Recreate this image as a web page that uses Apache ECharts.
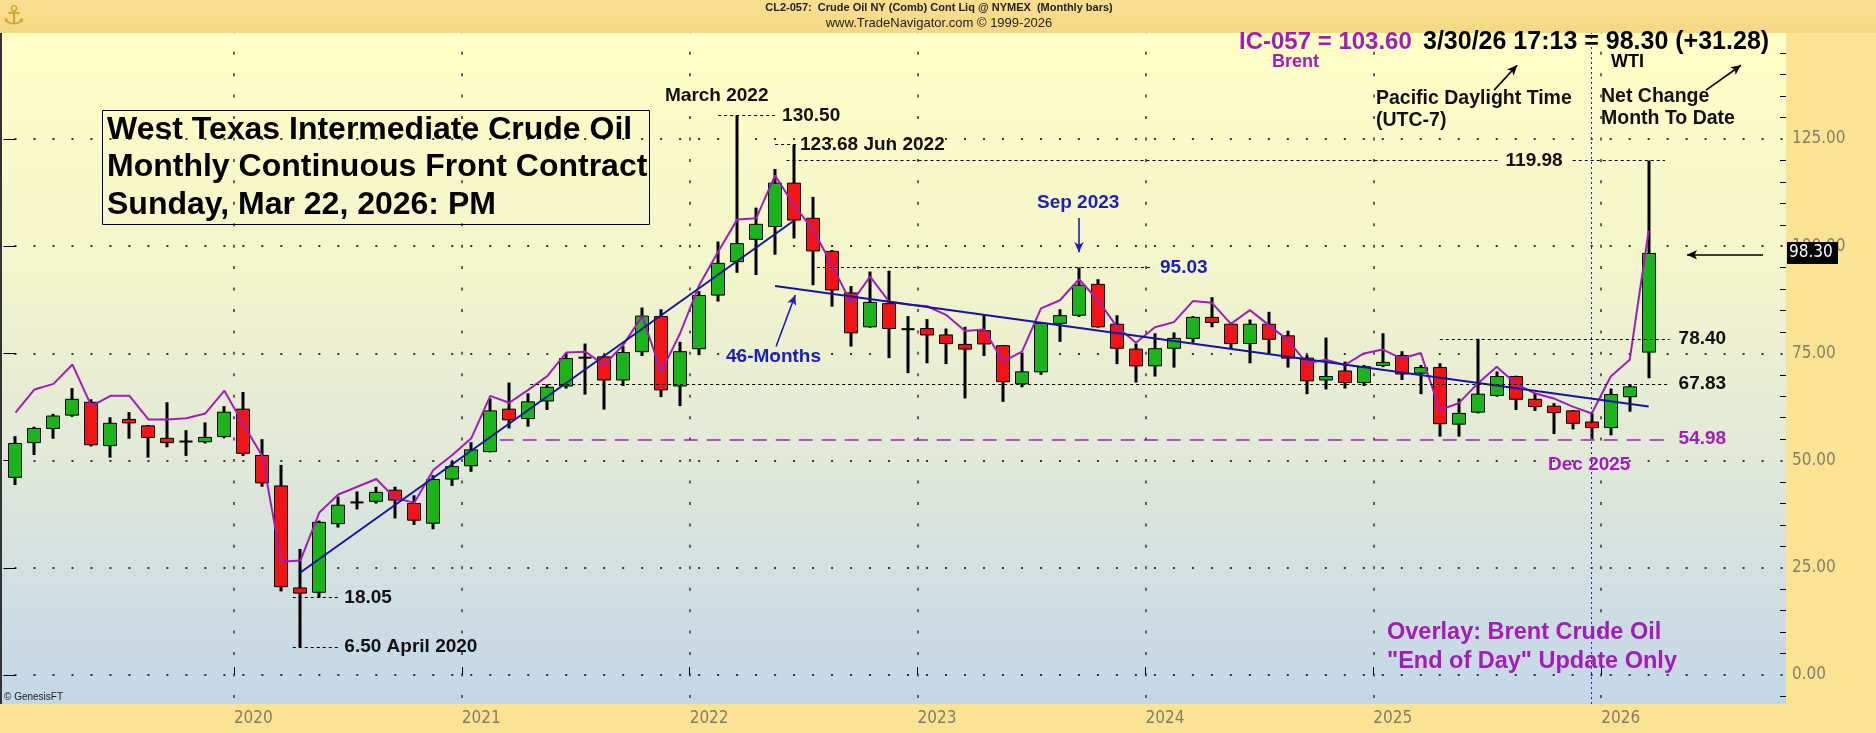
<!DOCTYPE html>
<html>
<head>
<meta charset="utf-8">
<title>WTI Crude Oil Monthly Continuous</title>
<script src="https://cdn.jsdelivr.net/npm/echarts@6.0.0/dist/echarts.min.js"></script>
<style>
  html, body { margin: 0; padding: 0; background: #FAE494; }
  #main { width: 1876px; height: 733px; }
</style>
</head>
<body>
<div id="main"></div>
<script>
// monthly bars, index 0 = Jan 2019 ... index 86 = Mar 2026
const opens = [46.1, 54.2, 57.5, 60.6, 63.6, 53.5, 59.6, 58.1, 55.2, 54.4, 54.4, 55.6,
  62.0, 51.2, 44.1, 20.3, 19.3, 35.3, 40.2, 40.5, 43.1, 40.0, 35.4, 45.7,
  48.8, 52.1, 62.0, 59.8, 63.9, 67.4, 73.9, 74.2, 68.8, 75.4, 83.6, 67.4,
  76.1, 88.6, 96.4, 101.6, 104.6, 114.7, 106.5, 98.8, 89.1, 81.2, 86.6, 80.6,
  80.8, 79.3, 77.1, 80.3, 76.8, 67.9, 70.7, 82.0, 83.9, 91.1, 81.8, 76.0,
  72.1, 76.2, 78.5, 83.4, 81.8, 77.3, 81.8, 79.1, 73.9, 68.8, 70.9, 68.2,
  72.2, 74.5, 70.4, 71.7, 58.5, 61.3, 65.2, 69.6, 64.3, 62.7, 61.6, 59.0,
  57.7, 64.9, 75.3];
const highs = [55.7, 57.9, 60.9, 66.9, 64.3, 60.1, 61.3, 58.3, 63.6, 57.1, 58.9, 62.7,
  66.0, 55.0, 49.0, 29.4, 36.0, 41.6, 42.8, 43.9, 43.9, 41.9, 46.6, 49.8,
  54.3, 64.5, 68.2, 65.7, 67.8, 75.0, 77.3, 74.6, 76.7, 85.7, 85.3, 77.7,
  89.5, 101.1, 130.5, 109.0, 118.0, 123.68, 111.5, 99.1, 90.7, 94.1, 94.3, 83.7,
  83.0, 80.8, 81.2, 83.9, 76.9, 75.2, 82.2, 85.3, 95.03, 92.3, 83.9, 77.3,
  79.7, 79.9, 83.7, 88.1, 82.3, 82.9, 84.7, 80.3, 74.6, 78.7, 73.1, 72.3,
  79.7, 75.5, 72.3, 72.7, 64.5, 78.4, 70.8, 69.8, 65.7, 63.4, 61.8, 61.0,
  66.8, 67.83, 119.98];
const lows = [44.3, 51.3, 55.1, 60.2, 53.3, 50.7, 55.1, 50.7, 53.1, 51.1, 54.0, 55.2,
  51.1, 43.9, 19.5, 6.5, 18.05, 34.4, 38.6, 40.0, 36.5, 35.0, 34.0, 44.1,
  47.4, 51.9, 57.5, 57.9, 61.8, 66.8, 65.4, 61.9, 67.4, 74.4, 64.8, 62.7,
  74.6, 87.1, 93.8, 93.3, 98.0, 101.8, 90.9, 85.9, 76.6, 81.0, 73.9, 70.4,
  72.7, 72.5, 64.5, 74.4, 63.7, 67.1, 70.0, 77.7, 83.5, 81.0, 72.5, 68.2,
  69.6, 71.7, 77.5, 81.1, 76.2, 72.7, 75.0, 71.7, 65.5, 66.6, 66.8, 67.4,
  71.8, 68.8, 65.5, 55.6, 55.6, 61.0, 64.9, 61.8, 61.6, 56.2, 57.3, 54.98,
  55.9, 61.4, 69.2];
const closes = [54.0, 57.5, 60.4, 64.3, 53.7, 58.7, 58.8, 55.4, 54.2, 54.5, 55.4, 61.3,
  51.7, 44.8, 20.6, 19.1, 35.6, 39.6, 40.3, 42.6, 40.8, 36.1, 45.6, 48.6,
  52.5, 61.6, 59.5, 63.7, 67.1, 73.8, 74.1, 68.8, 75.2, 83.7, 66.5, 75.4,
  88.5, 96.0, 100.6, 105.1, 114.7, 106.1, 98.9, 89.8, 79.8, 86.9, 80.8, 80.7,
  79.3, 77.3, 76.0, 77.2, 68.4, 70.7, 82.0, 83.8, 90.9, 81.2, 76.2, 72.1,
  76.1, 78.5, 83.4, 82.2, 77.3, 81.8, 78.3, 73.9, 68.6, 69.6, 68.2, 71.9,
  72.9, 70.2, 71.7, 58.6, 61.0, 65.5, 69.6, 64.3, 62.6, 61.2, 58.7, 57.7,
  65.4, 67.2, 98.3];
// Brent overlay, monthly close
const brentCloses = [61.2, 66.6, 67.9, 72.4, 62.7, 65.1, 65.1, 59.6, 59.6, 59.9, 61.0, 66.3,
  58.5, 51.0, 26.4, 26.7, 37.9, 42.1, 43.9, 45.7, 41.2, 40.2, 47.8, 51.3,
  55.2, 65.1, 63.5, 66.5, 69.7, 75.2, 75.4, 72.3, 77.0, 83.7, 70.7, 79.7,
  90.9, 98.7, 106.2, 106.5, 116.5, 109.5, 103.8, 95.6, 86.7, 92.9, 87.1, 86.4,
  86.0, 84.0, 80.2, 80.6, 73.1, 75.4, 85.5, 87.4, 92.3, 87.4, 81.2, 77.5,
  81.1, 82.3, 87.2, 86.8, 81.9, 85.1, 81.6, 78.1, 72.7, 73.5, 72.3, 75.0,
  75.9, 73.8, 75.1, 61.8, 63.4, 68.0, 71.9, 67.9, 65.7, 64.5, 62.6, 61.0,
  69.6, 73.5, 103.6];

const yearTicks = [11.5, 23.5, 35.5, 47.5, 59.5, 71.5, 83.5];
const yearLabels = ['2020', '2021', '2022', '2023', '2024', '2025', '2026'];
const priceTicks = [0, 25, 50, 75, 100, 125];
const minorPriceTicks = [-5, 5, 10, 15, 20, 30, 35, 40, 45, 55, 60, 65, 70, 80, 85, 90, 95,
  105, 110, 115, 120, 130, 135, 140, 145];

// trend lines [month index, price]
const riseLine = [[15, 23.9], [41, 106.0]];
const fallLine = [[40, 90.7], [86, 62.6]];

const ARIAL = '"Liberation Sans", Arial, sans-serif';
const VERD = '"DejaVu Sans", Verdana, sans-serif';
const AXISFONT = '"DejaVu Sans Condensed", "Liberation Sans", sans-serif';
const NARROW = '"Liberation Sans Narrow", "Liberation Sans", Arial';
const PURPLE = '#A21DB8';
const BLUE = '#1B1FB5';
const NAVY = '#16169C';
const GREEN = '#1BB41B';
const RED = '#F21414';
const GREY = '#857E66';

const X_MIN = -0.816, X_MAX = 93.23;
const Y_MIN = -6.76, Y_MAX = 149.72;

const candleData = opens.map((o, i) => [i, o, closes[i], lows[i], highs[i]]);
const brentData = brentCloses.map((v, i) => [i, v]);

function renderCandle(params, api) {
  const i = api.value(0);
  const o = api.value(1), c = api.value(2), lo = api.value(3), hi = api.value(4);
  const top = api.coord([i, Math.max(o, c)]);
  const bot = api.coord([i, Math.min(o, c)]);
  const pHi = api.coord([i, hi]);
  const pLo = api.coord([i, lo]);
  const w = Math.round(api.size([1, 0])[0] * 0.7);
  const x = Math.round(top[0]);
  const kids = [{
    type: 'line',
    shape: { x1: x, y1: pHi[1], x2: x, y2: pLo[1] },
    style: { stroke: '#000', lineWidth: 3 }
  }];
  const h = bot[1] - top[1];
  if (h < 2) {
    const ym = (top[1] + bot[1]) / 2;
    kids.push({ type: 'line', shape: { x1: x - w / 2, y1: ym, x2: x + w / 2, y2: ym },
      style: { stroke: '#000', lineWidth: 2 } });
  } else {
    kids.push({ type: 'rect', shape: { x: x - w / 2, y: top[1], width: w, height: h },
      style: { fill: c >= o ? GREEN : RED, stroke: '#000', lineWidth: 1 } });
  }
  return { type: 'group', children: kids };
}

function level(x1, x2, y, text, lineStyle, labelColor, dist) {
  return [
    { coord: [x1, y], lineStyle: lineStyle,
      label: text ? { show: true, position: 'end', formatter: text, color: labelColor,
        fontSize: 19, fontWeight: 'bold', fontFamily: ARIAL, distance: dist } : { show: false } },
    { coord: [x2, y] }
  ];
}
function arrow(x1, y1, x2, y2, color) {
  return [
    { coord: [x1, y1], symbol: 'none', lineStyle: { color: color, width: 1.6, type: 'solid' }, label: { show: false } },
    { coord: [x2, y2], symbol: 'arrow', symbolSize: [7, 10] }
  ];
}
const dotted = { color: '#000', width: 1, type: [3, 3] };
const purpleDash = { color: PURPLE, width: 1.5, type: [14, 9] };

function txt(x, y, text, size, color, extra) {
  return Object.assign({
    type: 'text', x: x, y: y, z: 50, silent: true,
    style: { text: text, fill: color, fontSize: size, fontWeight: 'bold', fontFamily: ARIAL,
      align: 'left', verticalAlign: 'middle' }
  }, extra || {});
}

const chart = echarts.init(document.getElementById('main'));
chart.setOption({
  animation: false,
  backgroundColor: '#FAE494',
  grid: {
    left: 0, right: 90, top: 33, bottom: 29, show: true, borderWidth: 0,
    backgroundColor: new echarts.graphic.LinearGradient(0, 0, 0, 1, [
      { offset: 0, color: '#FFFFC6' },
      { offset: 0.35, color: '#F3F5CC' },
      { offset: 0.62, color: '#E2E9D8' },
      { offset: 1, color: '#C4D6E9' }
    ])
  },
  xAxis: {
    type: 'value', min: X_MIN, max: X_MAX,
    axisLine: { show: false },
    axisTick: { show: true, inside: true, length: 8, customValues: yearTicks, lineStyle: { color: '#000' } },
    axisLabel: {
      customValues: yearTicks, color: GREY, fontSize: 17, fontFamily: AXISFONT, align: 'left', margin: 6,
      formatter: v => yearLabels[Math.round((v - 11.5) / 12)]
    },
    splitLine: { show: true, lineStyle: { color: '#333', width: 1.5, type: [3, 18.44], dashOffset: 2.74 } }
  },
  yAxis: [{
    type: 'value', position: 'right', min: Y_MIN, max: Y_MAX,
    axisLine: { show: false },
    axisTick: { show: true, inside: true, length: 12, customValues: priceTicks, lineStyle: { color: '#000' } },
    axisLabel: { customValues: priceTicks, color: GREY, fontSize: 17, fontFamily: AXISFONT, margin: 6,
      formatter: v => v.toFixed(2) },
    splitLine: { show: true, lineStyle: { color: '#333', width: 2, type: [2, 16.99], dashOffset: 4.49 } }
  }, {
    type: 'value', position: 'right', min: Y_MIN, max: Y_MAX,
    axisLine: { show: false },
    axisTick: { show: true, inside: true, length: 6, customValues: minorPriceTicks, lineStyle: { color: '#000' } },
    axisLabel: { show: false },
    splitLine: { show: false }
  }],
  series: [{
    type: 'custom', name: 'WTI', renderItem: renderCandle, data: candleData,
    encode: { x: 0, y: [1, 2, 3, 4] }, z: 2, silent: true
  }, {
    type: 'line', name: 'Brent', data: brentData, symbol: 'none', z: 3, silent: true,
    lineStyle: { color: PURPLE, width: 2 }
  }, {
    type: 'line', name: 'Uptrend', data: riseLine, symbol: 'none', z: 4, silent: true,
    lineStyle: { color: NAVY, width: 2 }
  }, {
    type: 'line', name: '46-Months', data: fallLine, symbol: 'none', z: 4, silent: true,
    lineStyle: { color: NAVY, width: 2 },
    markLine: {
      silent: true, animation: false, symbol: ['none', 'none'], label: { show: false },
      data: [
        level(37, 40, 130.5, '130.50', dotted, '#111', 7),
        level(40, 41.1, 123.68, '123.68 Jun 2022', dotted, '#111', 4),
        level(40.6, 78.2, 119.98, '119.98', dotted, '#111', 5),
        level(82.0, 86.85, 119.98, null, dotted),
        level(42.2, 59.9, 95.03, '95.03', dotted, BLUE, 7),
        level(75, 87.1, 78.4, '78.40', dotted, '#111', 9),
        level(27.1, 87.1, 67.83, '67.83', dotted, '#111', 9),
        level(25.5, 87.1, 54.98, '54.98', purpleDash, PURPLE, 9),
        level(14.6, 17.0, 18.05, '18.05', dotted, '#111', 6),
        level(14.6, 17.0, 6.5, '6.50 April 2020', dotted, '#111', 6),
        [{ coord: [83, Y_MIN], lineStyle: { color: BLUE, width: 1, type: [2, 3] }, label: { show: false } },
         { coord: [83, Y_MAX] }],
        arrow(56, 106.6, 56, 98.6, BLUE),
        arrow(40.05, 76.6, 41.06, 88.6, BLUE),
        arrow(92.02, 98.0, 88.02, 98.0, '#000'),
        arrow(77.86, 136.4, 79.07, 142.2, '#000'),
        arrow(89.02, 136.4, 90.86, 142.2, '#000')
      ]
    }
  }],
  graphic: [
    { type: 'rect', z: 1, silent: true, shape: { x: 0, y: 0, width: 1876, height: 33 },
      style: { fill: new echarts.graphic.LinearGradient(0, 0, 0, 1, [
        { offset: 0, color: '#F8DF90' }, { offset: 1, color: '#F4D884' }]) } },
    { type: 'line', z: 50, silent: true, shape: { x1: 1, y1: 33, x2: 1, y2: 704 },
      style: { stroke: '#333', lineWidth: 2 } },
    txt(14, 17, '⚓', 26, '#D2A526', { style: { text: '⚓', fill: '#D2A526', fontSize: 26, fontFamily: VERD, align: 'center', verticalAlign: 'middle' } }),
    txt(939, 8, 'CL2-057:  Crude Oil NY (Comb) Cont Liq @ NYMEX  (Monthly bars)', 11, '#222',
      { style: { text: 'CL2-057:  Crude Oil NY (Comb) Cont Liq @ NYMEX  (Monthly bars)', fill: '#222', fontSize: 11,
        fontWeight: 'bold', fontFamily: NARROW, align: 'center', verticalAlign: 'middle' } }),
    txt(939, 23, 'www.TradeNavigator.com © 1999-2026', 13, '#222',
      { style: { text: 'www.TradeNavigator.com © 1999-2026', fill: '#222', fontSize: 13,
        fontFamily: NARROW, align: 'center', verticalAlign: 'middle' } }),
    { type: 'rect', z: 50, silent: true, shape: { x: 102.5, y: 110.5, width: 547, height: 114 },
      style: { fill: 'none', stroke: '#000', lineWidth: 1 } },
    txt(107, 130, 'West Texas Intermediate Crude Oil', 32, '#000'),
    txt(107, 167, 'Monthly Continuous Front Contract', 32, '#000'),
    txt(107, 205, 'Sunday, Mar 22, 2026: PM', 32, '#000'),
    txt(665, 96, 'March 2022', 19, '#111'),
    txt(1239, 42, 'IC-057 = 103.60', 24, PURPLE),
    txt(1423, 42, '3/30/26 17:13 = 98.30 (+31.28)', 25, '#000'),
    txt(1272, 62, 'Brent', 18, PURPLE),
    txt(1611, 62, 'WTI', 18, '#000'),
    txt(1376, 99, 'Pacific Daylight Time', 19.5, '#111'),
    txt(1376, 121, '(UTC-7)', 19.5, '#111'),
    txt(1601, 97, 'Net Change', 19.5, '#111'),
    txt(1601, 119, 'Month To Date', 19.5, '#111'),
    txt(1037, 203, 'Sep 2023', 19, BLUE),
    txt(726, 357, '46-Months', 19, BLUE),
    txt(1548, 465, 'Dec 2025', 19, PURPLE),
    txt(1387, 633, 'Overlay: Brent Crude Oil', 23.5, PURPLE),
    txt(1387, 662, '"End of Day" Update Only', 23.5, PURPLE),
    txt(4, 697, '© GenesisFT', 10, '#222',
      { style: { text: '© GenesisFT', fill: '#222', fontSize: 10, fontFamily: NARROW,
        align: 'left', verticalAlign: 'middle' } }),
    { type: 'rect', z: 60, silent: true, shape: { x: 1787, y: 242, width: 51, height: 22 }, style: { fill: '#000' } },
    txt(1789, 253, '98.30', 17, '#fff', { z: 61, style: { text: '98.30', fill: '#fff', fontSize: 17, fontFamily: AXISFONT,
      align: 'left', verticalAlign: 'middle' } })
  ]
});
</script>
</body>
</html>
